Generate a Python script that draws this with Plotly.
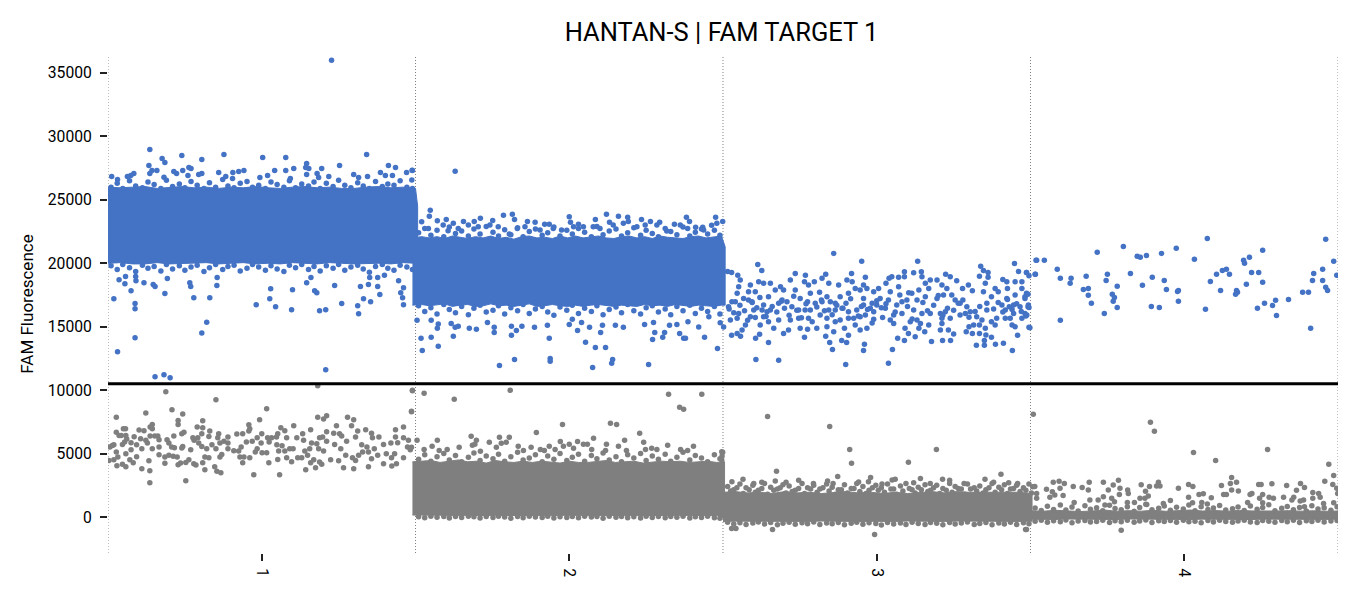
import plotly.graph_objects as go

TITLE = "HANTAN-S | FAM TARGET 1"
Y_TITLE = "FAM Fluorescence"
WELLS = [1, 2, 3, 4]
WELL_EDGES = [0.5, 1.5, 2.5, 3.5, 4.5]
Y_TICKS = [0, 5000, 10000, 15000, 20000, 25000, 30000, 35000]
THRESHOLD = 10500

# Dense core of each droplet cloud, read as upper and lower envelopes
pos1_band_x = [0.5,0.54,0.58,0.62,0.66,0.7,0.74,0.78,0.82,0.86,0.9,0.94,0.98,1.02,1.06,1.1,1.14,1.18,1.22,1.26,1.3,1.34,1.38,1.42,1.46,1.5,1.507]
pos1_band_hi = [26000,25950,26000,26050,25900,26000,26050,25950,26000,25900,26000,25950,26050,25950,25900,26000,26050,25950,26000,25900,25900,26000,26050,25950,26000,25900,24500]
pos1_band_lo = [20000,20050,19950,19950,20050,19950,19950,20000,20050,19950,20000,20050,19950,20000,19950,20050,20000,19950,20050,20000,19950,19950,20000,19950,20050,20000,19500]

pos2_band_x = [1.49,1.52,1.545,1.57,1.595,1.62,1.645,1.67,1.695,1.72,1.745,1.77,1.795,1.82,1.845,1.87,1.895,1.92,1.945,1.97,1.995,2.02,2.045,2.07,2.095,2.12,2.145,2.17,2.195,2.22,2.245,2.27,2.295,2.32,2.345,2.37,2.395,2.42,2.445,2.47,2.495,2.507]
pos2_band_hi = [22000,22100,22000,22100,21950,22150,22050,21950,22100,22000,22150,21950,22050,21900,22100,22150,22000,22050,21950,22150,22000,22150,22000,22100,22150,22000,21950,22100,22150,22000,22100,21950,22150,22050,22000,21950,22100,22150,22000,22100,22150,21300]
pos2_band_lo = [16700,16750,16650,16700,16800,16600,16700,16750,16600,16650,16800,16650,16700,16600,16700,16800,16600,16650,16750,16650,16600,16700,16600,16700,16750,16650,16600,16700,16650,16600,16750,16650,16700,16600,16750,16650,16600,16700,16650,16600,16700,16700]

neg2_band_x = [1.49,1.52,1.55,1.58,1.61,1.64,1.67,1.7,1.73,1.76,1.79,1.82,1.85,1.88,1.91,1.94,1.97,2.0,2.03,2.06,2.09,2.12,2.15,2.18,2.21,2.24,2.27,2.3,2.33,2.36,2.39,2.42,2.45,2.48,2.505]
neg2_band_hi = [4350,4400,4450,4300,4400,4500,4350,4400,4250,4450,4350,4300,4400,4300,4400,4350,4250,4400,4300,4300,4350,4450,4300,4350,4400,4250,4300,4400,4350,4400,4300,4350,4400,4300,4350]
neg2_band_lo = [150,120,130,140,120,110,130,120,140,110,120,130,120,140,120,110,130,120,110,140,120,130,120,110,130,120,140,110,120,130,120,130,110,120,-100]

neg3_band_x = [2.5,2.54,2.58,2.62,2.66,2.7,2.74,2.78,2.82,2.86,2.9,2.94,2.98,3.02,3.06,3.1,3.14,3.18,3.22,3.26,3.3,3.34,3.38,3.42,3.46,3.505]
neg3_band_hi = [1950,2000,1900,1950,1850,2000,1900,1950,1850,1950,2000,1900,1950,1850,1950,1850,1900,2000,1900,2000,1950,1950,1900,1950,1950,1850]
neg3_band_lo = [-350,-330,-350,-320,-360,-330,-340,-350,-320,-350,-330,-360,-340,-330,-350,-320,-340,-330,-350,-320,-340,-350,-330,-340,-350,-330]

neg4_band_x = [3.5,3.54,3.58,3.62,3.66,3.7,3.74,3.78,3.82,3.86,3.9,3.94,3.98,4.02,4.06,4.1,4.14,4.18,4.22,4.26,4.3,4.34,4.38,4.42,4.46,4.5,4.507]
neg4_band_hi = [500,450,530,470,430,470,550,450,500,460,530,450,520,550,470,510,460,520,480,450,470,500,460,490,450,470,450]
neg4_band_lo = [-170,-180,-200,-160,-190,-170,-180,-200,-160,-180,-190,-170,-180,-200,-170,-190,-160,-180,-200,-170,-180,-190,-170,-180,-190,-170,-140]

# Rough rim of each dense core, read droplet by droplet
well1_rim_x = [0.51,0.53,0.548,0.57,0.59,0.612,0.63,0.65,0.672,0.69,0.71,0.732,0.75,0.77,0.79,0.812,0.83,0.85,0.873,0.89,0.91,0.93,0.952,0.97,0.99,1.012,1.03,1.05,1.072,1.09,1.11,1.13,1.152,1.17,1.19,1.21,1.232,1.25,1.27,1.29,1.312,1.33,1.35,1.37,1.392,1.41,1.43,1.45,1.472,1.49]
pos1_top_y = [26000,26300,25900,26500,26100,25950,26400,26200,25900,26550,26050,26250,25950,26450,26150,25900,26350,26000,26600,26100,25950,26300,26450,26000,26150,25900,26400,26200,26000,26500,25950,26250,26100,26400,25900,26300,26050,26550,26150,25950,26350,26100,25900,26450,26050,26250,26150,26500,26000,25900]
pos1_bot_y = [19800,19500,19900,19650,19350,19850,19600,19750,19400,19900,19550,19800,19450,19700,19850,19350,19650,19900,19500,19750,19850,19400,19600,19900,19700,19450,19800,19550,19350,19850,19650,19900,19500,19750,19400,19800,19600,19900,19450,19700,19850,19550,19300,19750,19900,19600,19450,19850,19700,19500]

well2_rim_x = [1.51,1.53,1.55,1.57,1.592,1.61,1.63,1.65,1.672,1.69,1.71,1.73,1.752,1.77,1.79,1.81,1.832,1.85,1.87,1.89,1.912,1.93,1.95,1.97,1.992,2.01,2.03,2.05,2.072,2.09,2.11,2.13,2.152,2.17,2.19,2.21,2.232,2.25,2.27,2.29,2.312,2.33,2.35,2.37,2.392,2.41,2.43,2.45,2.472,2.49]
pos2_top_y = [22400,22750,22200,22600,22100,22850,22350,22550,22150,22700,22300,22900,22450,22150,22650,22250,22800,22100,22500,22700,22200,22400,22850,22150,22600,22300,22750,22450,22100,22900,22250,22550,22700,22150,22400,22800,22200,22600,22350,22100,22750,22500,22250,22850,22150,22450,22700,22300,22600,22200]
pos2_bot_y = [16650,16200,16500,16000,16750,16350,16100,16600,15950,16450,16700,16150,16300,16650,16000,16500,16250,16750,16050,16400,16600,16150,15900,16550,16300,16700,16050,16450,16200,16650,15950,16350,16550,16100,16750,16250,16000,16500,16650,16150,16400,15950,16600,16250,16700,16050,16450,16200,16600,16000]
neg2_top_y = [4550,4900,4400,4750,5000,4500,4850,4350,4700,5050,4450,4800,4600,4950,4400,4750,5100,4500,4650,4900,4350,4800,4550,5000,4450,4700,4950,4400,4850,4600,5050,4500,4750,4350,4900,4650,5000,4450,4800,4550,4950,4400,4700,5100,4500,4850,4650,4350,4900,4600]
neg2_bot_y = [20,-60,60,-20,40,-80,30,-40,50,10,-70,40,-30,60,-10,-90,30,-50,50,0,-40,60,-80,20,-30,40,-60,50,-10,30,-90,60,-20,40,-50,10,-70,50,-30,30,-60,40,-20,60,-80,10,-40,50,-60,-100]

well3_rim_x = [2.515,2.535,2.555,2.575,2.597,2.615,2.635,2.655,2.677,2.695,2.715,2.735,2.757,2.775,2.795,2.815,2.837,2.855,2.875,2.895,2.917,2.935,2.955,2.975,2.997,3.015,3.035,3.055,3.077,3.095,3.115,3.135,3.157,3.175,3.195,3.215,3.237,3.255,3.275,3.295,3.317,3.335,3.355,3.375,3.397,3.415,3.435,3.455,3.477,3.495]
well3_inner_x = [2.525,2.545,2.566,2.585,2.605,2.626,2.645,2.665,2.686,2.705,2.725,2.746,2.765,2.785,2.806,2.825,2.845,2.866,2.885,2.905,2.926,2.945,2.965,2.986,3.005,3.025,3.046,3.065,3.085,3.106,3.125,3.145,3.166,3.185,3.205,3.226,3.245,3.265,3.286,3.305,3.325,3.346,3.365,3.385,3.406,3.425,3.445,3.466,3.485,3.503]
neg3_top_y = [2400,2150,2600,2300,2500,2100,2650,2350,2200,2550,2450,2100,2650,2300,2500,2200,2600,2350,2150,2550,2250,2650,2400,2100,2500,2300,2600,2200,2450,2650,2150,2350,2550,2100,2500,2250,2650,2400,2200,2600,2300,2450,2150,2650,2350,2550,2200,2500,2300,2600]
neg3_inner_y = [2050,2300,1850,2150,1950,2250,1800,2100,2300,1900,2000,2250,1850,2200,1950,2300,2050,1800,2150,1900,2250,2000,1850,2300,2100,1950,2200,1800,2050,2250,1900,2150,2000,2300,1850,2100,1950,2250,1800,2200,2050,1900,2300,1950,2150,1850,2250,2000,2100,1900]
neg3_bot_y = [-420,-550,-450,-600,-480,-400,-560,-440,-620,-500,-420,-580,-460,-530,-400,-600,-470,-540,-430,-610,-490,-410,-570,-450,-520,-630,-430,-550,-480,-600,-410,-520,-590,-440,-500,-620,-430,-560,-470,-400,-590,-510,-440,-610,-480,-550,-420,-600,-460,-530]

well4_rim_x = [3.515,3.535,3.555,3.575,3.597,3.615,3.635,3.655,3.677,3.695,3.715,3.735,3.757,3.775,3.795,3.815,3.837,3.855,3.875,3.895,3.917,3.935,3.955,3.975,3.997,4.015,4.035,4.055,4.077,4.095,4.115,4.135,4.157,4.175,4.195,4.215,4.237,4.255,4.275,4.295,4.317,4.335,4.355,4.375,4.397,4.415,4.435,4.455,4.477,4.497]
neg4_top_y = [700,520,850,600,950,550,780,480,880,620,720,500,920,660,570,800,460,740,1000,580,680,860,530,760,630,940,490,810,590,710,900,550,650,790,520,870,610,740,960,500,690,830,570,750,480,890,640,720,540,800]
neg4_bot_y = [-330,-260,-420,-300,-380,-240,-450,-310,-270,-400,-350,-250,-430,-290,-370,-260,-410,-320,-240,-440,-300,-360,-270,-420,-250,-380,-330,-450,-280,-400,-260,-350,-420,-310,-250,-390,-440,-280,-340,-410,-270,-370,-250,-430,-300,-360,-260,-400,-320,-280]

# Droplets read one by one outside the dense core
pos_x = [1.227,0.636,0.633,0.676,0.685,0.74,0.805,0.877,1.003,1.078,1.146,1.253,1.341,1.412,1.435,1.195,1.042,1.078,1.104,1.143,1.153,0.942,0.763,0.77,0.743,0.659,0.643,0.584,1.49,1.471,1.386,1.425,1.402,1.344,1.299,1.315,1.218,1.18,1.185,1.146,1.093,1.019,0.994,0.925,0.906,0.905,0.883,0.86,0.805,0.795,0.76,0.723,0.714,0.682,0.636,0.574,0.563,0.512,0.531,
 0.519,0.536,0.555,0.557,0.575,0.591,0.59,0.617,0.588,0.588,0.647,0.653,0.685,0.693,0.766,0.769,0.779,0.831,0.854,0.855,0.982,1.029,1.026,1.045,1.097,1.1,1.146,1.16,1.172,1.179,1.188,1.208,1.237,1.26,1.312,1.315,1.321,1.331,1.354,1.347,1.351,1.377,1.377,1.384,1.445,1.452,1.461,1.458,1.461,1.399,
 0.531,0.588,0.653,0.682,0.702,0.805,0.821,1.208,
 1.489,1.629,1.488,1.548,1.545,1.52,1.571,1.6,1.623,1.656,1.691,1.711,1.751,1.786,1.815,1.822,1.864,1.889,1.92,1.935,2.0,2.004,2.03,2.085,2.121,2.131,2.16,2.19,2.192,2.235,2.264,2.294,2.342,2.381,2.391,2.411,2.434,2.463,2.476,2.499,
 1.542,1.59,1.606,1.639,1.672,1.704,1.742,1.769,1.805,1.831,1.856,1.905,1.948,1.975,2.014,2.046,2.078,2.1,2.143,2.176,2.22,2.247,2.285,2.317,2.361,2.385,2.437,2.48,
 1.518,1.522,1.551,1.574,1.623,1.773,1.822,1.812,1.756,1.938,1.938,1.935,2.053,2.085,2.118,2.076,2.141,2.138,2.027,2.102,2.258,2.271,2.278,2.304,2.31,2.359,2.372,2.378,2.44,2.482,
 1.505,1.551,1.574,1.571,1.616,1.629,1.639,1.675,1.698,1.734,1.756,1.812,1.828,1.846,1.887,1.929,2.0,2.01,2.04,2.066,2.108,2.15,2.176,2.245,2.274,2.326,2.35,2.386,2.421,2.454,2.491,2.502,
 2.613,2.626,2.86,2.951,3.133,3.338,3.448,3.52,3.516,3.461,3.487,2.515,2.528,2.548,2.606,2.619,2.648,2.607,2.681,2.899,3.038,2.856,2.847,2.957,2.96,3.051,2.886,2.902,2.908,3.068,3.09,3.178,3.214,3.24,3.324,3.35,3.35,3.386,3.412,3.441,3.373,2.765,2.834,2.528,2.557,
 2.546,2.551,2.556,2.54,2.529,2.518,2.524,2.546,2.551,2.567,2.583,2.594,2.589,2.583,2.605,2.616,2.632,2.654,2.6,2.589,2.605,2.627,2.621,2.573,2.562,2.546,
 2.632,2.648,2.643,2.654,2.632,2.648,2.665,2.681,2.67,2.687,2.697,2.692,2.681,2.708,2.719,2.735,2.724,2.697,2.713,2.719,2.746,2.751,2.746,2.751,2.735,2.765,2.768,2.778,2.784,2.775,2.767,2.784,2.778,2.775,2.805,2.816,2.8,2.822,2.797,2.822,2.834,2.844,2.814,2.838,2.849,2.844,2.865,2.838,2.865,2.881,2.838,2.86,2.895,2.876,2.903,2.918,2.92,2.908,2.881,2.865,2.887,2.908,2.908,2.93,2.946,2.935,2.925,2.93,2.946,2.963,2.957,2.968,2.957,2.957,2.946,2.963,2.968,2.99,3.006,3.011,2.985,2.979,3.0,2.99,2.99,3.019,3.028,3.038,3.044,3.03,3.04,3.049,3.071,3.09,3.09,3.071,3.055,3.044,3.055,3.082,3.065,3.082,3.098,3.104,3.12,3.114,3.12,3.109,3.092,3.103,3.125,3.131,3.142,3.137,3.147,3.131,3.137,3.145,3.147,3.158,3.169,3.174,3.158,3.174,3.169,3.156,3.207,3.212,3.196,3.196,3.212,3.224,3.239,3.228,3.217,3.207,3.223,3.212,3.239,3.233,3.25,3.255,3.26,3.244,3.271,3.293,3.279,3.298,3.311,3.288,3.271,3.3,3.291,3.311,3.315,3.304,3.325,3.334,3.334,3.353,3.355,3.342,3.358,3.358,3.347,3.353,3.334,3.347,3.362,3.362,3.373,3.385,3.395,3.41,3.423,3.425,3.45,3.472,3.472,3.45,3.423,3.407,3.418,3.39,3.373,3.385,3.418,3.434,3.445,3.44,3.45,3.458,3.466,3.482,3.482,3.493,3.498,3.472,3.431,3.445,
 2.52,2.535,2.555,2.57,2.58,2.595,2.61,2.62,2.64,2.66,2.675,2.69,2.7,2.715,2.73,2.74,2.755,2.77,2.79,2.805,2.82,2.83,2.855,2.87,2.89,2.9,2.915,2.94,2.95,2.97,2.985,3.0,3.015,3.03,3.06,3.075,3.1,3.115,3.15,3.165,3.185,3.2,3.215,3.23,3.25,3.265,3.28,3.3,3.32,3.335,3.38,3.395,3.41,3.425,3.44,3.455,3.47,3.485,
 3.487,3.495,3.487,3.492,3.482,3.492,3.495,3.488,3.495,
 3.518,3.545,3.587,3.515,3.597,3.597,3.632,3.629,3.681,3.672,3.688,3.688,3.698,3.717,3.75,3.746,3.782,3.766,3.773,3.769,3.782,3.74,3.802,3.825,3.847,3.857,3.877,3.864,3.896,3.893,3.919,3.926,3.935,3.942,3.974,3.978,3.981,3.981,4.033,4.075,4.069,4.085,4.105,4.124,4.137,4.147,4.118,4.17,4.173,4.167,4.193,4.196,4.212,4.202,4.219,4.242,4.255,4.255,4.261,4.238,4.287,4.297,4.3,4.339,4.385,4.404,4.411,4.417,4.421,4.45,4.45,4.46,4.46,4.466,4.486,4.496]
pos_y = [36000,28970,27710,28260,27950,28500,28180,28580,28340,28340,27870,27710,28580,27710,27550,27470,27320,27320,27470,27550,27470,27320,27550,27470,27320,27320,27320,27080,27320,27160,27160,26920,26920,26840,27000,26760,26840,27080,26760,27000,26680,26920,26760,27240,27160,26680,26840,27160,27080,27000,26920,27080,27240,26790,27080,26920,26840,26840,26600,
 17210,18710,18390,18950,17840,18630,18950,18470,16820,16420,18320,18160,17610,18790,18470,18160,17290,17290,18240,18870,16740,18000,17210,16580,16340,17920,18470,18870,17840,17680,16260,16340,18240,16820,16660,16030,18160,17210,16970,18320,18870,18160,18870,17530,18630,17680,18080,17290,16740,19050,
 13020,14120,11050,11210,10970,14510,15350,11600,
 27330,27250,26560,24170,23700,23280,23360,23460,23150,23300,23300,23540,23380,23780,23860,23460,23300,23230,23070,23070,23670,23230,23070,23460,23860,23230,23700,23620,23300,23460,23300,23230,23070,23620,23300,22830,22830,22990,23620,23300,
 22750,23010,22570,22750,23010,22880,23010,22880,22300,22750,22880,22620,22750,22620,22880,22880,22880,22750,23010,23150,22880,23010,23010,22540,23010,22750,22620,23150,
 14080,13130,14160,13450,14240,11950,12420,14320,14550,12500,12270,14080,13770,13370,13370,11790,12420,12110,14710,14550,12030,14000,14550,14160,14550,14470,14080,14080,14160,13290,
 15500,15500,15210,14870,15260,14950,15030,14870,14790,15340,14950,15030,14710,15030,14950,15110,15180,15580,15340,14950,15110,15110,14950,15180,15340,15110,15180,15390,14980,15790,15320,14980,
 19910,19440,20780,20150,20150,19760,19990,20230,19130,19360,19280,19360,19280,19050,14080,14400,13760,12420,12350,12030,12110,13210,13760,13130,13610,13210,13920,13760,14320,14080,13920,13840,13920,13920,13530,13530,13920,13610,13690,13130,14160,14160,14240,14320,14240,
 17630,18150,18680,16970,16970,16580,15520,15660,16050,17230,17100,16970,18280,17760,17760,18550,18420,18420,16310,15790,15730,16310,15130,15130,14740,14470,
 16710,17360,16180,16310,15790,15390,14870,15520,17890,18150,17890,17100,16840,16970,18680,19200,16580,14470,14740,15520,15660,14870,16310,17230,17890,18550,19050,18280,17630,16970,16310,16310,15660,14790,14870,15920,16840,16970,18550,18810,19130,18420,17710,17360,16970,16310,16310,15660,15390,15520,14990,14600,14870,18280,18680,19200,18550,17630,17360,16840,16450,16180,15660,18020,17890,16310,15660,15130,14740,18890,18280,18020,17230,16710,15790,15920,14870,17760,18020,17230,16840,16450,16710,16180,15580,15730,16450,17100,17760,18420,18810,18940,18890,19340,18940,18150,15920,15520,15260,16050,16710,16970,17100,17680,19260,17630,16310,15390,14870,14470,14210,15520,15260,14870,16050,17100,17890,19340,18940,18420,18020,18680,17360,16050,15130,14600,14740,15260,17230,18680,18280,19130,18940,18020,17500,16050,16180,15660,15660,14740,14420,17100,18630,17500,16840,16580,18020,18280,17840,16050,15920,14990,14600,14470,15130,16180,15790,15130,14470,14870,14340,15520,16310,16840,17760,18420,18970,19440,19280,18890,17360,18020,17760,18730,18550,18020,18550,18550,18020,17500,17230,16710,16310,15660,15390,15130,15660,15660,16050,15130,14990,14320,16580,16050,17360,16710,14920,15660,16580,16710,
 16400,16100,16700,16250,15500,16900,16500,17300,15800,16600,16150,17000,16450,15900,17400,16300,15700,16800,15400,16550,17100,16250,15950,16700,16450,16850,17200,15850,16600,16350,15300,17050,16500,16800,16150,17500,16600,15600,16900,16250,16700,17450,15900,16450,16300,16850,17100,15750,16200,16600,16400,16900,16150,17150,16350,16800,16200,15850,
 19280,19020,17630,17550,17230,16580,16520,15920,14950,
 20230,20230,19520,19130,18810,15500,18810,18420,18970,17940,18020,17470,16840,20860,19130,18650,18180,17550,17310,17000,16520,16050,21330,19200,20550,20470,20620,18260,18890,16600,16520,20780,18650,17940,21180,17780,17860,17000,20310,21960,16370,18570,19130,19440,19520,19130,17860,17860,17710,17550,20230,20000,20470,18340,19280,19280,21020,18500,16840,16450,16680,17080,15890,17150,17710,17710,14870,18650,19200,19520,18650,21890,18100,17860,20150,19050]

neg_x = [0.503,0.506,0.514,0.519,0.519,0.527,0.527,0.529,0.527,0.536,0.532,0.543,0.547,0.55,0.557,0.558,0.561,0.554,0.547,0.558,0.558,0.575,0.575,0.571,0.582,0.585,0.593,0.593,0.601,0.606,0.61,0.61,0.617,0.623,0.623,0.628,0.633,0.636,0.636,0.637,0.644,0.644,0.637,0.644,0.652,0.662,0.666,0.666,0.666,0.688,0.692,0.698,0.708,0.707,0.685,0.685,0.698,0.714,0.716,0.712,0.725,0.728,0.736,0.728,0.728,0.743,0.747,0.74,0.743,0.74,0.753,0.753,0.763,0.769,0.776,0.78,0.779,0.786,0.79,0.792,0.795,0.805,0.808,0.808,0.808,0.805,0.815,0.815,0.821,0.828,0.828,0.831,0.838,0.847,0.851,0.854,0.867,0.864,0.87,0.86,0.857,0.851,0.864,0.877,0.89,0.89,0.89,0.909,0.919,0.925,0.933,0.938,0.938,0.929,0.942,0.95,0.958,0.961,0.958,0.961,0.974,0.969,0.979,0.985,0.993,0.985,0.998,1.0,1.001,1.016,1.016,1.023,1.019,1.024,1.032,1.048,1.052,1.049,1.055,1.052,1.058,1.062,1.066,1.075,1.075,1.081,1.081,1.091,1.097,1.102,1.104,1.114,1.117,1.13,1.133,1.136,1.143,1.14,1.149,1.156,1.159,1.162,1.159,1.169,1.175,1.179,1.182,1.182,1.185,1.188,1.195,1.188,1.198,1.201,1.211,1.211,1.211,1.201,1.224,1.234,1.237,1.243,1.25,1.253,1.26,1.257,1.266,1.273,1.276,1.279,1.292,1.299,1.299,1.295,1.305,1.312,1.305,1.315,1.325,1.328,1.338,1.347,1.347,1.342,1.357,1.36,1.357,1.366,1.381,1.377,1.396,1.396,1.405,1.42,1.423,1.422,1.435,1.435,1.438,1.432,1.442,1.461,1.461,1.461,1.477,1.474,1.483,1.49,1.487,
 1.49,1.528,1.626,1.808,1.487,2.323,2.431,2.359,2.372,1.978,2.134,2.154,1.893,2.229,1.681,1.773,1.805,1.571,1.698,1.505,2.027,2.079,1.971,2.18,2.242,1.74,1.795,1.779,1.685,1.693,1.554,1.642,1.763,1.935,1.981,2.0,2.046,2.059,2.121,2.16,2.32,2.404,1.834,1.876,1.487,
 1.528,1.577,1.603,1.711,1.851,1.906,1.919,1.954,2.014,2.073,2.118,2.186,2.248,2.268,2.285,2.362,2.385,2.499,
 2.496,2.497,2.496,
 2.645,2.847,2.912,2.918,3.103,3.194,2.674,2.873,2.98,3.404,3.142,2.993,2.661,2.528,2.542,3.484,
 2.565,2.529,2.6,2.626,2.67,2.705,2.746,2.794,2.84,2.858,2.941,2.973,3.017,3.05,3.06,3.12,3.174,3.214,3.237,3.284,3.352,3.38,3.429,3.458,3.507,
 3.509,3.89,3.903,4.03,4.102,4.271,4.47,4.486,4.457,4.483,4.496,4.499,3.795,3.487,
 3.514,3.552,3.574,3.593,3.61,3.596,3.571,3.563,3.579,3.606,3.52,3.52,3.642,3.639,3.668,3.688,3.691,3.693,3.737,3.786,3.769,3.753,3.791,3.789,3.816,3.818,3.737,3.72,3.764,3.773,3.742,3.815,3.838,3.856,3.86,3.887,3.874,3.883,3.872,3.878,3.91,3.916,3.921,3.955,3.932,3.981,4.014,4.014,4.028,4.027,4.048,4.062,4.057,4.088,4.075,4.121,4.128,4.137,4.15,4.154,4.17,4.154,4.176,4.206,4.214,4.22,4.242,4.25,4.255,4.245,4.255,4.285,4.276,4.29,4.333,4.323,4.356,4.35,4.365,4.378,4.391,4.377,4.388,4.418,4.418,4.437,4.442,4.453,4.486,4.391]
neg_y = [4460,5510,5640,5700,4510,7870,5120,4040,6690,6430,4720,6430,4150,6960,6960,6430,6140,5910,5720,4990,3960,5850,5300,4510,4280,6330,5700,4750,6850,6170,3810,5380,6800,8190,6040,5830,4440,3650,2700,7090,7300,6960,6380,5380,6380,6380,6090,5510,4910,9870,6090,5830,8450,5510,4230,4720,4860,6380,5460,4780,4720,4120,4250,7610,7300,8110,6690,6560,5560,5430,2860,4300,4510,5300,6250,6040,4200,4090,7090,6250,5830,6560,7590,7030,4280,5560,3730,4720,5380,4670,6350,6770,5700,3960,9240,3600,3490,4720,4930,6560,6250,5380,5830,5980,6300,5830,5380,5220,6540,5200,5510,6560,4280,4720,4720,5910,7270,6960,6770,4670,3330,5980,5120,5380,7660,6250,5830,6560,5070,8530,5070,4280,6250,5910,6250,6300,6560,5700,5200,4540,3330,7030,5620,6800,5200,6250,4670,5380,4360,5380,7190,6250,4670,4670,6560,6040,3730,5200,4860,5380,6880,5830,4280,4510,3880,5770,10340,7870,5380,4330,4150,6250,6300,7720,7980,6720,5980,5200,4510,6610,5720,7190,4440,6560,6380,5380,3880,4860,5980,7870,7190,7660,3810,4670,6300,6770,4460,4860,5700,5120,6880,3960,5120,5510,6610,6250,4590,5380,6300,4860,4200,5720,4990,5830,4020,4670,6880,6300,4200,4990,5850,7090,6250,4670,6040,5510,5300,9950,8290,
 9990,9750,9280,9990,8330,9670,9670,8650,8490,7300,7380,7300,6670,6600,6360,6280,6280,6040,6040,6040,5960,6200,5960,6040,5890,5890,5890,5810,5650,5730,5570,5490,5490,5570,5570,5730,5730,5730,5730,5570,5650,5570,5570,5490,5490,
 5330,5250,5330,5180,5250,5330,5250,5330,5410,5330,5250,5250,5330,5410,5330,5330,5250,5100,
 4500,4800,5140,
 7930,7140,5330,4230,4310,5330,3600,3200,3120,3360,3040,-1370,-980,-900,-900,-980,
 2970,2780,2650,2730,2830,2730,2890,2650,2830,2650,2760,2780,2600,2910,2970,2700,2650,2970,2890,2650,2970,2730,2700,2650,2390,
 8090,7460,6750,5090,4460,5330,4150,3280,2810,2570,2260,1860,-1050,-980,
 2410,2180,2730,2810,2650,2260,1990,1550,1730,1700,1860,1470,1150,2410,2330,2120,2730,1340,2730,2890,2520,2120,2260,1780,2120,1860,1600,1340,1470,1200,940,1150,1150,1470,2550,2410,2020,1650,1470,990,2440,2730,2440,1310,1070,2260,1550,2570,2410,1130,1780,1830,1150,1520,1020,2490,1780,1780,2650,3120,2730,2120,2050,1150,1780,1860,2570,2570,1780,1470,1130,2620,1550,1470,2490,1550,1550,1340,2100,2650,2330,1260,1340,1940,1470,1860,1550,1070,1130,810]

BLUE = "#4472C4"
GREY = "#7F7F7F"

fig = go.Figure()

def band(xs, hi, lo, colour):
    fig.add_trace(go.Scatter(x=xs + xs[::-1], y=hi + lo[::-1], mode="lines", fill="toself",
                             fillcolor=colour, line=dict(color=colour, width=1),
                             hoverinfo="skip", showlegend=False))

band(pos1_band_x, pos1_band_hi, pos1_band_lo, BLUE)
band(pos2_band_x, pos2_band_hi, pos2_band_lo, BLUE)
band(neg2_band_x, neg2_band_hi, neg2_band_lo, GREY)
band(neg3_band_x, neg3_band_hi, neg3_band_lo, GREY)
band(neg4_band_x, neg4_band_hi, neg4_band_lo, GREY)

all_pos_x = pos_x + well1_rim_x + well1_rim_x + well2_rim_x + well2_rim_x
all_pos_y = pos_y + pos1_top_y + pos1_bot_y + pos2_top_y + pos2_bot_y
all_neg_x = neg_x + well2_rim_x + well2_rim_x + well3_rim_x + well3_inner_x + well3_rim_x + well4_rim_x + well4_rim_x
all_neg_y = neg_y + neg2_top_y + neg2_bot_y + neg3_top_y + neg3_inner_y + neg3_bot_y + neg4_top_y + neg4_bot_y

fig.add_trace(go.Scatter(x=all_pos_x, y=all_pos_y, mode="markers", marker=dict(color=BLUE, size=5.5, line=dict(width=0)), showlegend=False))
fig.add_trace(go.Scatter(x=all_neg_x, y=all_neg_y, mode="markers", marker=dict(color=GREY, size=5.5, line=dict(width=0)), showlegend=False))

fig.add_trace(go.Scatter(x=[WELL_EDGES[0], WELL_EDGES[-1]], y=[THRESHOLD, THRESHOLD], mode="lines",
                         line=dict(color="black", width=3), showlegend=False))

for edge in WELL_EDGES:
    fig.add_vline(x=edge, line=dict(color="#808080", width=1, dash="1px,2px"), layer="below")

fig.update_layout(
    width=1344, height=584,
    margin=dict(l=100, r=14, t=47, b=39),
    paper_bgcolor="white", plot_bgcolor="white",
    font=dict(family="Roboto", color="#000000", size=15.7),
    title=dict(text=TITLE, x=0.4988, xref="paper", xanchor="center", y=1 - 24 / 584, yref="container",
               yanchor="middle", font=dict(size=25.5, family="Roboto", color="#000000")),
    showlegend=False,
)
fig.update_xaxes(range=[WELL_EDGES[0], WELL_EDGES[-1]], tickmode="array", tickvals=WELLS,
                 ticktext=[str(w) for w in WELLS], tickangle=90, ticks="outside", ticklen=7,
                 tickwidth=1.5, tickcolor="#222222", showgrid=False, zeroline=False, showline=False,
                 ticklabelstandoff=4)
fig.update_yaxes(range=[-2838, 36417], tickmode="array", tickvals=Y_TICKS,
                 ticktext=[str(t) for t in Y_TICKS], ticks="outside", ticklen=7, tickwidth=1.5,
                 tickcolor="#222222", showgrid=False, zeroline=False, showline=False, ticklabelstandoff=5,
                 title=dict(text=Y_TITLE, font=dict(size=17), standoff=9))

assert len(pos_x) == len(pos_y), (len(pos_x), len(pos_y))
assert len(neg_x) == len(neg_y), (len(neg_x), len(neg_y))
fig.write_html("out.html")
